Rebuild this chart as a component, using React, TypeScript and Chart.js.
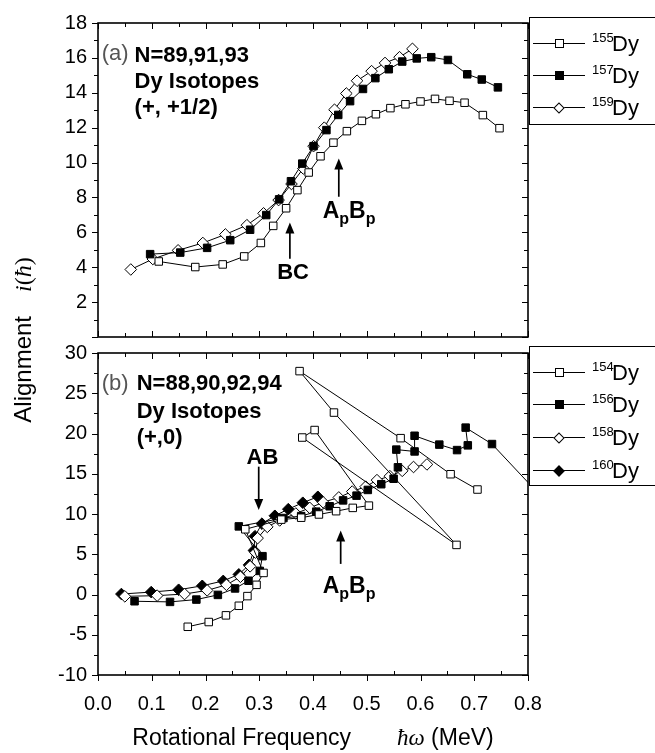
import React, { useEffect, useRef } from "react";
import { Chart, registerables } from "chart.js";

Chart.register(...registerables);

// ---------- Panel (a): N=89,91,93 (+,+1/2) ----------
const dy155Omega = [0.113, 0.181, 0.232, 0.272, 0.303, 0.326, 0.350, 0.371, 0.392, 0.414, 0.438, 0.463, 0.491, 0.517, 0.544, 0.572, 0.600, 0.627, 0.654, 0.682, 0.716, 0.747];
const dy155Align = [4.33, 4.01, 4.16, 4.62, 5.39, 6.37, 7.38, 8.42, 9.43, 10.36, 11.14, 11.80, 12.39, 12.77, 13.12, 13.34, 13.50, 13.65, 13.54, 13.43, 12.72, 11.97];
const dy157Omega = [0.097, 0.153, 0.203, 0.246, 0.283, 0.313, 0.337, 0.359, 0.380, 0.401, 0.425, 0.447, 0.469, 0.493, 0.516, 0.541, 0.566, 0.593, 0.620, 0.651, 0.687, 0.714, 0.744];
const dy157Align = [4.75, 4.84, 5.11, 5.55, 6.15, 6.99, 7.89, 8.93, 9.94, 10.94, 11.86, 12.73, 13.52, 14.22, 14.84, 15.35, 15.79, 15.97, 16.04, 15.88, 15.06, 14.76, 14.31];
const dy159Omega = [0.061, 0.102, 0.149, 0.195, 0.237, 0.277, 0.308, 0.336, 0.360, 0.382, 0.401, 0.421, 0.440, 0.462, 0.482, 0.509, 0.534, 0.561, 0.585];
const dy159Align = [3.87, 4.47, 4.97, 5.39, 5.88, 6.41, 7.09, 7.85, 8.77, 9.66, 10.94, 12.00, 13.03, 13.96, 14.69, 15.24, 15.71, 16.04, 16.52];

// ---------- Panel (b): N=88,90,92,94 (+,0) ----------
const dy154Omega = [0.167, 0.206, 0.238, 0.262, 0.278, 0.295, 0.308, 0.274, 0.341, 0.378, 0.411, 0.443, 0.474, 0.504, 0.403, 0.380, 0.667, 0.439, 0.375, 0.563, 0.656, 0.706];
const dy154Align = [-4.01, -3.42, -2.59, -1.4, -0.2, 1.2, 2.68, 8.1, 9.3, 9.54, 9.94, 10.35, 10.76, 11.04, 20.43, 19.5, 6.16, 22.6, 27.75, 19.42, 14.94, 13.04];
const dy156Omega = [0.068, 0.134, 0.183, 0.223, 0.255, 0.280, 0.301, 0.306, 0.262, 0.345, 0.378, 0.406, 0.431, 0.456, 0.481, 0.502, 0.527, 0.550, 0.558, 0.555, 0.589, 0.589, 0.635, 0.668, 0.688, 0.684, 0.733, 0.82];
const dy156Align = [-0.84, -0.92, -0.63, -0.05, 0.75, 1.71, 2.93, 4.76, 8.46, 9.5, 9.74, 10.29, 10.96, 11.69, 12.28, 12.99, 13.7, 14.38, 15.8, 18.0, 17.77, 19.72, 18.62, 17.94, 18.53, 20.73, 18.69, 12.5];
const dy158Omega = [0.050, 0.110, 0.161, 0.203, 0.239, 0.265, 0.283, 0.293, 0.297, 0.315, 0.338, 0.368, 0.394, 0.419, 0.448, 0.473, 0.498, 0.519, 0.543, 0.566, 0.587, 0.612];
const dy158Align = [-0.23, -0.14, 0.06, 0.51, 1.2, 2.2, 3.5, 5.2, 7.0, 8.4, 9.2, 10.06, 10.76, 11.45, 12.06, 12.79, 13.4, 14.21, 14.7, 15.36, 15.84, 16.16];
const dy160Omega = [0.0435, 0.099, 0.150, 0.194, 0.233, 0.262, 0.281, 0.290, 0.292, 0.305, 0.329, 0.354, 0.381, 0.409];
const dy160Align = [0.06, 0.30, 0.59, 1.08, 1.69, 2.50, 3.68, 5.47, 7.24, 8.80, 9.78, 10.6, 11.4, 12.14];

// ---------- axis ticks ----------
const xTickValues = [0, 0.1, 0.2, 0.3, 0.4, 0.5, 0.6, 0.7, 0.8];
const topYTicks = [0, 2, 4, 6, 8, 10, 12, 14, 16, 18];
const botYTicks = [-10, -5, 0, 5, 10, 15, 20, 25, 30];

const SANS = '"Liberation Sans", Arial, Helvetica, sans-serif';
const SERIF = '"Liberation Serif", "DejaVu Serif", serif';

type Style = "rect" | "rectRot";
function makeDataset(label: string, xs: number[], ys: number[], style: Style, filled: boolean) {
  return {
    label,
    data: xs.map((x, i) => ({ x, y: ys[i] })),
    showLine: true,
    borderColor: "#000",
    borderWidth: 1,
    tension: 0,
    fill: false,
    pointStyle: style,
    pointRadius: style === "rect" ? 5.3 : 5.8,
    pointHoverRadius: style === "rect" ? 5.3 : 5.8,
    pointBackgroundColor: filled ? "#000" : "#fff",
    pointBorderColor: "#000",
    pointBorderWidth: 1,
  };
}

const framePlugin = {
  id: "frame",
  afterDatasetsDraw(chart: any, _args: any, opts: any) {
    const ctx = chart.ctx;
    const { left, right, top, bottom } = chart.chartArea;
    const xs = chart.scales.x;
    const ys = chart.scales.y;
    ctx.save();
    ctx.strokeStyle = "#000";
    ctx.lineWidth = 1;
    const line = (x1: number, y1: number, x2: number, y2: number) => {
      ctx.beginPath();
      ctx.moveTo(x1, y1);
      ctx.lineTo(x2, y2);
      ctx.stroke();
    };
    const nx = Math.round((xs.max - xs.min) / opts.xMinor);
    for (let i = 0; i <= nx; i++) {
      const v = xs.min + i * opts.xMinor;
      const px = Math.round(xs.getPixelForValue(v)) + 0.5;
      const major = i % 2 === 0;
      if (opts.bottomOut && major) line(px, bottom, px, bottom + 6);
      else line(px, bottom, px, bottom - (major ? 6 : 4));
      line(px, top, px, top + (major ? 6 : 4));
    }
    const ny = Math.round((ys.max - ys.min) / opts.yMinor);
    for (let i = 0; i <= ny; i++) {
      const v = ys.min + i * opts.yMinor;
      const py = Math.round(ys.getPixelForValue(v)) + 0.5;
      const major = i % 2 === 0;
      line(left, py, left - (major ? 6 : 4), py);
      line(right, py, right - (major ? 6 : 4), py);
    }
    ctx.lineWidth = 1.6;
    ctx.strokeRect(left, top, right - left, bottom - top);
    ctx.restore();
  },
};

const annotPlugin = {
  id: "annot",
  afterDatasetsDraw(chart: any, _args: any, opts: any) {
    const ctx = chart.ctx;
    const xs = chart.scales.x;
    const ys = chart.scales.y;
    ctx.save();
    ctx.textBaseline = "alphabetic";
    for (const t of opts.texts || []) {
      let px = xs.getPixelForValue(t.x);
      const py = ys.getPixelForValue(t.y);
      ctx.fillStyle = t.color || "#000";
      const parts = t.parts || [{ s: t.text }];
      let total = 0;
      for (const p of parts) {
        ctx.font = p.sub ? t.subFont : t.font;
        total += ctx.measureText(p.s).width;
      }
      if (t.align === "center") px -= total / 2;
      for (const p of parts) {
        ctx.font = p.sub ? t.subFont : t.font;
        ctx.fillText(p.s, px, py + (p.sub ? 6 : 0));
        px += ctx.measureText(p.s).width;
      }
    }
    for (const a of opts.arrows || []) {
      const px = xs.getPixelForValue(a.x);
      const p1 = ys.getPixelForValue(a.from);
      const p2 = ys.getPixelForValue(a.to);
      const dir = p2 > p1 ? 1 : -1;
      ctx.strokeStyle = "#000";
      ctx.fillStyle = "#000";
      ctx.lineWidth = 1.7;
      ctx.beginPath();
      ctx.moveTo(px, p1);
      ctx.lineTo(px, p2 - dir * 8);
      ctx.stroke();
      ctx.beginPath();
      ctx.moveTo(px, p2);
      ctx.lineTo(px - 4.5, p2 - dir * 11);
      ctx.lineTo(px + 4.5, p2 - dir * 11);
      ctx.closePath();
      ctx.fill();
    }
    ctx.restore();
  },
};

const boldFont = `bold 22px ${SANS}`;
const subFont = `bold 16px ${SANS}`;

const topAnnot = {
  texts: [
    { x: 0.007, y: 15.87, text: "(a)", font: `22px ${SANS}`, color: "#555" },
    { x: 0.068, y: 15.76, text: "N=89,91,93", font: boldFont },
    { x: 0.068, y: 14.28, text: "Dy Isotopes", font: boldFont },
    { x: 0.068, y: 12.8, text: "(+, +1/2)", font: boldFont },
    { x: 0.363, y: 3.34, text: "BC", font: boldFont, align: "center" },
    { x: 0.418, y: 6.84, parts: [{ s: "A" }, { s: "p", sub: true }, { s: "B" }, { s: "p", sub: true }], font: `bold 23px ${SANS}`, subFont },
  ],
  arrows: [
    { x: 0.357, from: 4.49, to: 6.57 },
    { x: 0.448, from: 8.04, to: 10.23 },
  ],
};

const botAnnot = {
  texts: [
    { x: 0.007, y: 25.4, text: "(b)", font: `22px ${SANS}`, color: "#555" },
    { x: 0.072, y: 25.4, text: "N=88,90,92,94", font: boldFont },
    { x: 0.072, y: 21.98, text: "Dy Isotopes", font: boldFont },
    { x: 0.072, y: 18.69, text: "(+,0)", font: boldFont },
    { x: 0.306, y: 16.25, text: "AB", font: boldFont, align: "center" },
    { x: 0.418, y: 0.14, parts: [{ s: "A" }, { s: "p", sub: true }, { s: "B" }, { s: "p", sub: true }], font: `bold 23px ${SANS}`, subFont },
  ],
  arrows: [
    { x: 0.299, from: 15.88, to: 10.51 },
    { x: 0.4515, from: 3.8, to: 7.95 },
  ],
};

const TOP_H = 360;
const BOT_TOP = 330;
const BOT_H = 753 - BOT_TOP;

function yAxis(min: number, max: number, ticks: number[], hideZero: boolean) {
  return {
    type: "linear",
    min,
    max,
    afterFit: (s: any) => {
      s.width = 98;
    },
    afterBuildTicks: (s: any) => {
      s.ticks = ticks.map((v) => ({ value: v }));
    },
    grid: { display: false, drawTicks: false },
    border: { display: false },
    ticks: {
      padding: 11,
      color: "#000",
      font: { family: SANS, size: 20 },
      callback: (v: any) => (hideZero && v === 0 ? "" : String(v)),
    },
  };
}

export default function App() {
  const topRef = useRef<HTMLCanvasElement | null>(null);
  const botRef = useRef<HTMLCanvasElement | null>(null);

  useEffect(() => {
    const top = new Chart(topRef.current as HTMLCanvasElement, {
      type: "scatter",
      data: {
        datasets: [
          makeDataset("155Dy", dy155Omega, dy155Align, "rect", false),
          makeDataset("157Dy", dy157Omega, dy157Align, "rect", true),
          makeDataset("159Dy", dy159Omega, dy159Align, "rectRot", false),
        ],
      },
      options: {
        responsive: false,
        animation: false,
        devicePixelRatio: 1,
        events: [],
        layout: { padding: { top: 18, right: 127, bottom: TOP_H - 347, left: 0 } },
        plugins: {
          legend: { display: false },
          tooltip: { enabled: false },
          frame: { xMinor: 0.05, yMinor: 1, bottomOut: false },
          annot: topAnnot,
        } as any,
        scales: {
          x: { type: "linear", min: 0, max: 0.8, display: false },
          y: yAxis(0, 18, topYTicks, true) as any,
        },
      },
      plugins: [framePlugin, annotPlugin],
    });

    const bot = new Chart(botRef.current as HTMLCanvasElement, {
      type: "scatter",
      data: {
        datasets: [
          makeDataset("154Dy", dy154Omega, dy154Align, "rect", false),
          makeDataset("156Dy", dy156Omega, dy156Align, "rect", true),
          makeDataset("158Dy", dy158Omega, dy158Align, "rectRot", false),
          makeDataset("160Dy", dy160Omega, dy160Align, "rectRot", true),
        ],
      },
      options: {
        responsive: false,
        animation: false,
        devicePixelRatio: 1,
        events: [],
        layout: { padding: { top: 347 - BOT_TOP, right: 127, bottom: 0, left: 0 } },
        plugins: {
          legend: { display: false },
          tooltip: { enabled: false },
          frame: { xMinor: 0.05, yMinor: 2.5, bottomOut: true },
          annot: botAnnot,
        } as any,
        scales: {
          x: {
            type: "linear",
            min: 0,
            max: 0.8,
            afterFit: (s: any) => {
              s.height = BOT_H - (675 - BOT_TOP);
            },
            afterBuildTicks: (s: any) => {
              s.ticks = xTickValues.map((v) => ({ value: v }));
            },
            grid: { display: false, drawTicks: false },
            border: { display: false },
            ticks: {
              padding: 17,
              color: "#000",
              font: { family: SANS, size: 20 },
              callback: (v: any) => Number(v).toFixed(1),
            },
          } as any,
          y: yAxis(-10, 30, botYTicks, false) as any,
        },
      },
      plugins: [framePlugin, annotPlugin],
    });

    return () => {
      top.destroy();
      bot.destroy();
    };
  }, []);

  const legendRow = (y: number, iso: string, shape: "sq" | "dia", filled: boolean) => (
    <React.Fragment key={iso + y}>
      <div style={{ position: "absolute", left: 533, top: y, width: 52, height: 1, background: "#000" }} />
      {shape === "sq" ? (
        <div
          style={{
            position: "absolute",
            left: 559 - 4.5,
            top: y - 4,
            width: 9,
            height: 9,
            boxSizing: "border-box",
            border: "1px solid #000",
            background: filled ? "#000" : "#fff",
          }}
        />
      ) : (
        <div
          style={{
            position: "absolute",
            left: 559 - 4,
            top: y - 3.5,
            width: 8,
            height: 8,
            boxSizing: "border-box",
            border: "1px solid #000",
            background: filled ? "#000" : "#fff",
            transform: "rotate(45deg)",
          }}
        />
      )}
      <div style={{ position: "absolute", left: 592, top: y - 12, fontFamily: SANS, fontSize: 13, lineHeight: "13px", whiteSpace: "nowrap" }}>
        {iso}
      </div>
      <div style={{ position: "absolute", left: 612, top: y - 10.5, fontFamily: SANS, fontSize: 22, lineHeight: "22px", whiteSpace: "nowrap" }}>
        Dy
      </div>
    </React.Fragment>
  );

  return (
    <div style={{ position: "absolute", left: 0, top: 0, width: 655, height: 753, overflow: "hidden", background: "#fff" }}>
      <canvas ref={topRef} width={655} height={TOP_H} style={{ position: "absolute", left: 0, top: 0, display: "block" }} />
      <canvas ref={botRef} width={655} height={BOT_H} style={{ position: "absolute", left: 0, top: BOT_TOP, display: "block" }} />

      {/* legends */}
      <div style={{ position: "absolute", left: 529, top: 17, width: 140, height: 108, border: "1.5px solid #000", boxSizing: "border-box" }} />
      {legendRow(43, "155", "sq", false)}
      {legendRow(75, "157", "sq", true)}
      {legendRow(107, "159", "dia", false)}
      <div style={{ position: "absolute", left: 529, top: 346, width: 140, height: 140, border: "1.5px solid #000", boxSizing: "border-box" }} />
      {legendRow(372, "154", "sq", false)}
      {legendRow(404, "156", "sq", true)}
      {legendRow(437, "158", "dia", false)}
      {legendRow(470, "160", "dia", true)}

      {/* axis titles */}
      <div
        style={{
          position: "absolute",
          left: 23 - 150,
          top: 340 - 15,
          width: 300,
          height: 30,
          lineHeight: "30px",
          textAlign: "center",
          transform: "rotate(-90deg)",
          fontFamily: SANS,
          fontSize: 24,
          whiteSpace: "nowrap",
        }}
      >
        Alignment{"\u2002\u2002"}
        <span style={{ fontFamily: SERIF, fontStyle: "italic" }}>i</span>
        <span style={{ fontFamily: SERIF }}>(</span>
        <span style={{ fontFamily: SERIF, fontStyle: "italic" }}>ħ</span>
        <span style={{ fontFamily: SERIF }}>)</span>
      </div>
      <div
        style={{
          position: "absolute",
          left: 98,
          top: 724,
          width: 430,
          textAlign: "center",
          fontFamily: SANS,
          fontSize: 23,
          lineHeight: "26px",
          whiteSpace: "nowrap",
        }}
      >
        Rotational Frequency{"\u2003\u2003"}
        <span style={{ fontFamily: SERIF, fontStyle: "italic" }}>ħω</span> (MeV)
      </div>
    </div>
  );
}
